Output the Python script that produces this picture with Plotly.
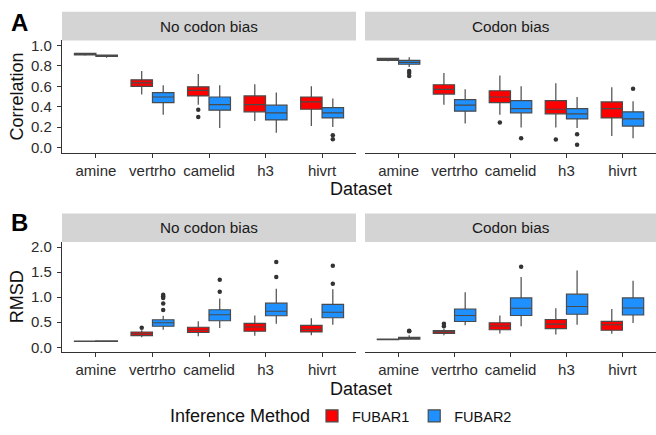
import plotly.graph_objects as go

W, H = 656, 435

datasets = ["amine", "vertrho", "camelid", "h3", "hivrt"]
methods = ["FUBAR1", "FUBAR2"]
facets = ["No codon bias", "Codon bias"]

# (lower whisker, q1, median, q3, upper whisker) per dataset
corr_nobias_fubar1 = [(0.90, 0.907, 0.915, 0.922, 0.93), (0.52, 0.60, 0.634, 0.663, 0.75),
                      (0.42, 0.505, 0.56, 0.595, 0.72), (0.26, 0.35, 0.42, 0.505, 0.62),
                      (0.21, 0.375, 0.447, 0.495, 0.60)]
corr_nobias_fubar1_out = [[], [], [0.37, 0.30], [], []]
corr_nobias_fubar2 = [(0.88, 0.893, 0.90, 0.905, 0.91), (0.32, 0.44, 0.495, 0.537, 0.61),
                      (0.19, 0.366, 0.42, 0.495, 0.61), (0.145, 0.27, 0.34, 0.415, 0.54),
                      (0.20, 0.29, 0.34, 0.39, 0.48)]
corr_nobias_fubar2_out = [[], [], [], [], [0.12, 0.08]]

corr_bias_fubar1 = [(0.845, 0.855, 0.865, 0.875, 0.88), (0.42, 0.524, 0.57, 0.615, 0.73),
                    (0.32, 0.44, 0.495, 0.556, 0.705), (0.195, 0.33, 0.375, 0.46, 0.63),
                    (0.113, 0.29, 0.38, 0.447, 0.59)]
corr_bias_fubar1_out = [[], [], [0.246], [0.078], []]
corr_bias_fubar2 = [(0.79, 0.816, 0.835, 0.854, 0.885), (0.236, 0.356, 0.415, 0.47, 0.57),
                    (0.195, 0.34, 0.38, 0.46, 0.60), (0.19, 0.28, 0.33, 0.38, 0.495),
                    (0.09, 0.21, 0.28, 0.35, 0.453)]
corr_bias_fubar2_out = [[0.75, 0.73, 0.70], [], [0.09], [0.13, 0.026], [0.575]]

rmsd_nobias_fubar1 = [(0.11, 0.117, 0.12, 0.125, 0.13), (0.20, 0.235, 0.27, 0.305, 0.34),
                      (0.22, 0.295, 0.34, 0.40, 0.52), (0.23, 0.32, 0.405, 0.477, 0.635),
                      (0.24, 0.307, 0.36, 0.437, 0.58)]
rmsd_nobias_fubar1_out = [[], [0.39], [], [], []]
rmsd_nobias_fubar2 = [(0.11, 0.117, 0.122, 0.127, 0.13), (0.35, 0.42, 0.49, 0.55, 0.63),
                      (0.385, 0.53, 0.65, 0.75, 0.975), (0.47, 0.63, 0.72, 0.88, 1.17),
                      (0.45, 0.59, 0.70, 0.855, 1.16)]
rmsd_nobias_fubar2_out = [[], [0.745, 0.875, 0.985, 1.02, 1.05], [1.11, 1.35], [1.405, 1.705], [1.27, 1.63]]

rmsd_bias_fubar1 = [(0.15, 0.155, 0.16, 0.165, 0.17), (0.24, 0.275, 0.307, 0.333, 0.37),
                    (0.275, 0.35, 0.425, 0.49, 0.635), (0.255, 0.372, 0.464, 0.555, 0.78),
                    (0.27, 0.34, 0.45, 0.516, 0.765)]
rmsd_bias_fubar1_out = [[], [0.42, 0.47], [], [], []]
rmsd_bias_fubar2 = [(0.16, 0.165, 0.18, 0.20, 0.24), (0.44, 0.515, 0.635, 0.765, 1.10),
                    (0.42, 0.635, 0.78, 0.985, 1.405), (0.45, 0.66, 0.815, 1.06, 1.535),
                    (0.485, 0.645, 0.785, 0.985, 1.33)]
rmsd_bias_fubar2_out = [[0.32, 0.33], [], [1.61], [], []]

corr_ticks = [0.0, 0.2, 0.4, 0.6, 0.8, 1.0]
rmsd_ticks = [0.0, 0.5, 1.0, 1.5, 2.0]

colors = {"FUBAR1": "#FF0000", "FUBAR2": "#1E90FF"}
FONT = "Liberation Sans, Arial, sans-serif"
OUTLINE = "#4a4a4a"

panels = [
    ("x", "y", corr_nobias_fubar1, corr_nobias_fubar1_out, corr_nobias_fubar2, corr_nobias_fubar2_out),
    ("x2", "y2", corr_bias_fubar1, corr_bias_fubar1_out, corr_bias_fubar2, corr_bias_fubar2_out),
    ("x3", "y3", rmsd_nobias_fubar1, rmsd_nobias_fubar1_out, rmsd_nobias_fubar2, rmsd_nobias_fubar2_out),
    ("x4", "y4", rmsd_bias_fubar1, rmsd_bias_fubar1_out, rmsd_bias_fubar2, rmsd_bias_fubar2_out),
]

fig = go.Figure()
pos = list(range(1, len(datasets) + 1))
dodge = 0.19
bw = 0.38
for pi, (xa, ya, s1, o1, s2, o2) in enumerate(panels):
    for mi, (m, stats, outs) in enumerate([("FUBAR1", s1, o1), ("FUBAR2", s2, o2)]):
        off = -dodge if mi == 0 else dodge
        xs = [p + off for p in pos]
        fig.add_trace(go.Box(
            x=xs,
            lowerfence=[s[0] for s in stats], q1=[s[1] for s in stats],
            median=[s[2] for s in stats], q3=[s[3] for s in stats],
            upperfence=[s[4] for s in stats],
            width=bw, whiskerwidth=0, boxpoints=False,
            fillcolor=colors[m], line=dict(color=OUTLINE, width=1.2),
            name=m, legendgroup=m, showlegend=(pi == 0),
            xaxis=xa, yaxis=ya, hoverinfo="skip",
        ))
        ox, oy = [], []
        for p, vals in zip(xs, outs):
            for v in vals:
                ox.append(p)
                oy.append(v)
        if ox:
            fig.add_trace(go.Scatter(
                x=ox, y=oy, mode="markers",
                marker=dict(color="#333333", size=4.5),
                showlegend=False, xaxis=xa, yaxis=ya, hoverinfo="skip",
            ))

def py(px):
    return 1 - px / H

def pxx(px):
    return px / W

xdom_left = [pxx(62), pxx(356)]
xdom_right = [pxx(365), pxx(656)]
ydom_a = [py(151), py(37)]
ydom_b = [py(354), py(242)]

tickfont = dict(family=FONT, size=15, color="#2b2b2b")
xcommon = dict(range=[0.4, 5.6], tickvals=pos, ticktext=datasets, showline=True,
               linecolor="#333333", linewidth=1.2, ticks="outside", ticklen=4,
               tickcolor="#333333", tickwidth=1, tickfont=tickfont, showgrid=False,
               zeroline=False, fixedrange=True)
yleft = dict(showline=True, linecolor="#333333", linewidth=1.2, ticks="outside",
             ticklen=4, tickcolor="#333333", tickwidth=1, tickfont=tickfont,
             showgrid=False, zeroline=False, ticklabelstandoff=2)
yright = dict(showline=False, ticks="", showticklabels=False, showgrid=False, zeroline=False)

fig.update_layout(
    xaxis=dict(domain=xdom_left, anchor="y", **xcommon),
    xaxis2=dict(domain=xdom_right, anchor="y2", **xcommon),
    xaxis3=dict(domain=xdom_left, anchor="y3", **xcommon),
    xaxis4=dict(domain=xdom_right, anchor="y4", **xcommon),
    yaxis=dict(domain=ydom_a, anchor="x", range=[-0.05, 1.05], tickvals=corr_ticks,
               ticktext=[f"{v:.1f}" for v in corr_ticks], **yleft),
    yaxis2=dict(domain=ydom_a, anchor="x2", range=[-0.05, 1.05], **yright),
    yaxis3=dict(domain=ydom_b, anchor="x3", range=[-0.1, 2.1], tickvals=rmsd_ticks,
                ticktext=[f"{v:.1f}" for v in rmsd_ticks], **yleft),
    yaxis4=dict(domain=ydom_b, anchor="x4", range=[-0.1, 2.1], **yright),
)

shapes = []
annotations = []
strip_col = "#D4D4D4"
for (x0, x1) in [(62, 356), (365, 656)]:
    for (y0, y1) in [(8, 37), (213, 242)]:
        shapes.append(dict(type="rect", xref="paper", yref="paper",
                           x0=pxx(x0), x1=pxx(x1), y0=py(y1), y1=py(y0),
                           fillcolor=strip_col, line=dict(width=0), layer="below"))
for (x0, x1), lab in zip([(62, 356), (365, 656)], facets):
    for (y0, y1) in [(8, 37), (213, 242)]:
        annotations.append(dict(text=lab, xref="paper", yref="paper",
                                x=pxx((x0 + x1) / 2), y=py((y0 + y1) / 2),
                                showarrow=False, xanchor="center", yanchor="middle",
                                font=dict(family=FONT, size=15.3, color="#1a1a1a")))

title_font = dict(family=FONT, size=18, color="#111111")
for yy in [188, 391]:
    annotations.append(dict(text="Dataset", xref="paper", yref="paper", x=pxx(361), y=py(yy),
                            showarrow=False, xanchor="center", yanchor="middle", font=title_font))
annotations.append(dict(text="Correlation", xref="paper", yref="paper", x=pxx(17), y=py(94),
                        showarrow=False, xanchor="center", yanchor="middle", textangle=-90,
                        font=title_font))
annotations.append(dict(text="RMSD", xref="paper", yref="paper", x=pxx(17), y=py(298),
                        showarrow=False, xanchor="center", yanchor="middle", textangle=-90,
                        font=title_font))
annotations.append(dict(text="Inference Method", xref="paper", yref="paper", x=pxx(168), y=py(419),
                        showarrow=False, xanchor="left", yanchor="middle", font=title_font))
for lab, yy in [("A", 19), ("B", 222)]:
    annotations.append(dict(text=f"<b>{lab}</b>", xref="paper", yref="paper", x=pxx(19), y=py(yy),
                            showarrow=False, xanchor="center", yanchor="middle",
                            font=dict(family=FONT, size=24, color="#000000")))

fig.update_layout(
    width=W, height=H, margin=dict(l=0, r=0, t=0, b=0),
    paper_bgcolor="white", plot_bgcolor="white",
    shapes=shapes, annotations=annotations,
    showlegend=True,
    legend=dict(orientation="h", x=pxx(312), xanchor="left", y=0, yanchor="bottom",
                font=dict(family=FONT, size=14.5, color="#111111"),
                itemwidth=30, tracegroupgap=0, bgcolor="rgba(0,0,0,0)", borderwidth=0),
    font=dict(family=FONT),
)

fig.write_html("out.html")
